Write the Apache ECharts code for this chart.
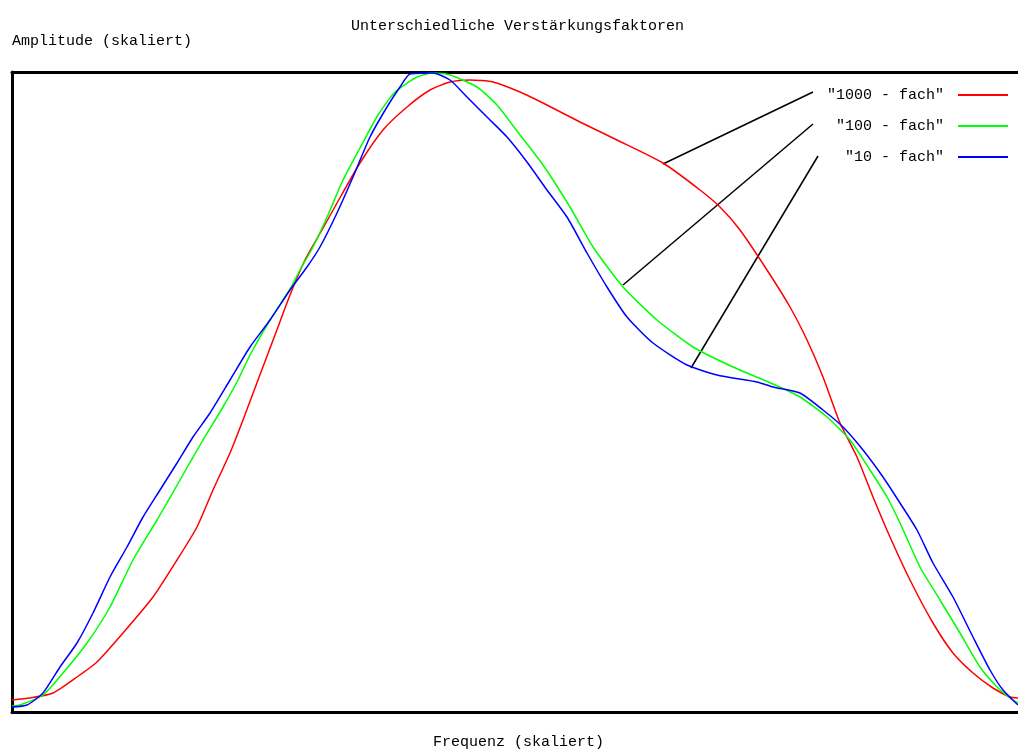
<!DOCTYPE html>
<html>
<head>
<meta charset="utf-8">
<script src="https://cdn.jsdelivr.net/npm/echarts@6/dist/echarts.min.js"></script>
<style>html,body{margin:0;padding:0;background:#fff}#c{width:1018px;height:754px}</style>
</head>
<body>
<div id="c"></div>
<script>
// Scaled units: frequency 0..1006, amplitude 0..640
var titleText = 'Unterschiedliche Verstärkungsfaktoren';
var yLabel = 'Amplitude (skaliert)';
var xLabel = 'Frequenz (skaliert)';
var seriesNames = ['"1000 - fach"', '"100 - fach"', '"10 - fach"'];
var seriesColors = ['#ff0000', '#00ff00', '#0000ff'];

var fach1000 = [[0,12],[18,14],[41,19],[65,35],[85,50],[111,79],[141,115],[165,152],[185,185],[201,222],[218,259],[231,292],[246,332],[263,377],[278,417],[293,452],[310,482],[325,509],[348,549],[371,582],[395,605],[418,622],[438,630],[458,632],[481,630],[508,620],[531,609],[568,590],[605,572],[651,549],[688,522],[708,505],[728,482],[755,442],[778,405],[795,372],[811,335],[828,289],[845,255],[861,215],[878,175],[898,132],[921,89],[941,59],[961,39],[981,24],[998,15],[1006,14]];

var fach100 = [[0,6],[8,7],[31,17],[51,39],[75,69],[98,105],[121,152],[145,192],[168,232],[191,272],[211,305],[226,332],[238,357],[258,392],[278,423],[288,442],[301,465],[316,497],[331,532],[348,564],[366,597],[383,620],[405,635],[421,639],[438,637],[465,625],[485,607],[508,577],[531,547],[558,505],[581,465],[611,425],[645,392],[681,365],[721,345],[761,328],[788,315],[815,295],[838,272],[858,242],[875,215],[888,189],[908,145],[928,112],[948,79],[968,45],[985,25],[998,14],[1006,9]];

var fach10 = [[0,5],[15,7],[31,19],[48,45],[65,69],[81,99],[98,135],[115,165],[131,195],[148,222],[165,249],[181,275],[198,299],[218,332],[238,365],[258,392],[278,422],[295,445],[308,465],[325,499],[341,535],[358,575],[375,605],[388,625],[398,638],[421,639],[438,632],[455,615],[475,595],[495,575],[515,550],[535,522],[555,495],[575,459],[595,425],[615,395],[641,369],[675,347],[705,337],[745,330],[761,325],[788,319],[811,302],[831,285],[851,262],[871,235],[888,209],[905,182],[921,149],[941,115],[961,75],[978,42],[991,22],[1006,7]];

// annotation pointer lines (legend label -> curve), in scaled units
var pointer1000 = [[801,620],[651,548]];
var pointer100 = [[801,588],[611,427]];
var pointer10 = [[806,556],[679,344]];

var FONT = '"Liberation Mono", "DejaVu Sans Mono", monospace';
var chart = echarts.init(document.getElementById('c'), null, {renderer: 'canvas'});

function curve(name, data, color) {
  return {
    name: name, type: 'line', data: data, symbol: 'none', animation: false,
    smooth: 0.2,
    lineStyle: {color: color, width: 1.5}, itemStyle: {color: color}
  };
}
function pointer(data) {
  return {
    type: 'line', data: data, symbol: 'none', animation: false, silent: true,
    lineStyle: {color: '#000', width: 1.5}
  };
}

chart.setOption({
  animation: false,
  backgroundColor: '#fff',
  title: [
    {text: titleText, left: 351, top: 19, padding: 0, textStyle: {fontFamily: FONT, fontSize: 15, fontWeight: 'normal', color: '#000'}},
    {text: yLabel, left: 12, top: 34, padding: 0, textStyle: {fontFamily: FONT, fontSize: 15, fontWeight: 'normal', color: '#000'}},
    {text: xLabel, left: 433, top: 735, padding: 0, textStyle: {fontFamily: FONT, fontSize: 15, fontWeight: 'normal', color: '#000'}}
  ],
  legend: {
    data: seriesNames,
    orient: 'vertical',
    align: 'right',
    right: 10,
    top: 87,
    padding: 0,
    itemGap: 15,
    itemWidth: 50,
    itemHeight: 2,
    icon: 'rect',
    selectedMode: false,
    formatter: function (n) { return n + ' '; },
    textStyle: {fontFamily: FONT, fontSize: 15, color: '#000', lineHeight: 16}
  },
  grid: {left: 12, right: 0, top: 72, bottom: 42, containLabel: false},
  xAxis: [
    {type: 'value', min: 0, max: 1006, position: 'bottom',
     axisLine: {show: true, onZero: false, lineStyle: {color: '#000', width: 3}},
     axisTick: {show: false}, axisLabel: {show: false}, splitLine: {show: false}},
    {type: 'value', min: 0, max: 1006, position: 'top',
     axisLine: {show: true, onZero: false, lineStyle: {color: '#000', width: 3}},
     axisTick: {show: false}, axisLabel: {show: false}, splitLine: {show: false}}
  ],
  yAxis: {type: 'value', min: 0, max: 640,
    axisLine: {show: true, onZero: false, lineStyle: {color: '#000', width: 3}},
    axisTick: {show: false}, axisLabel: {show: false}, splitLine: {show: false}},
  series: [
    pointer(pointer1000), pointer(pointer100), pointer(pointer10),
    curve(seriesNames[0], fach1000, seriesColors[0]),
    curve(seriesNames[1], fach100, seriesColors[1]),
    curve(seriesNames[2], fach10, seriesColors[2])
  ]
});
</script>
</body>
</html>
